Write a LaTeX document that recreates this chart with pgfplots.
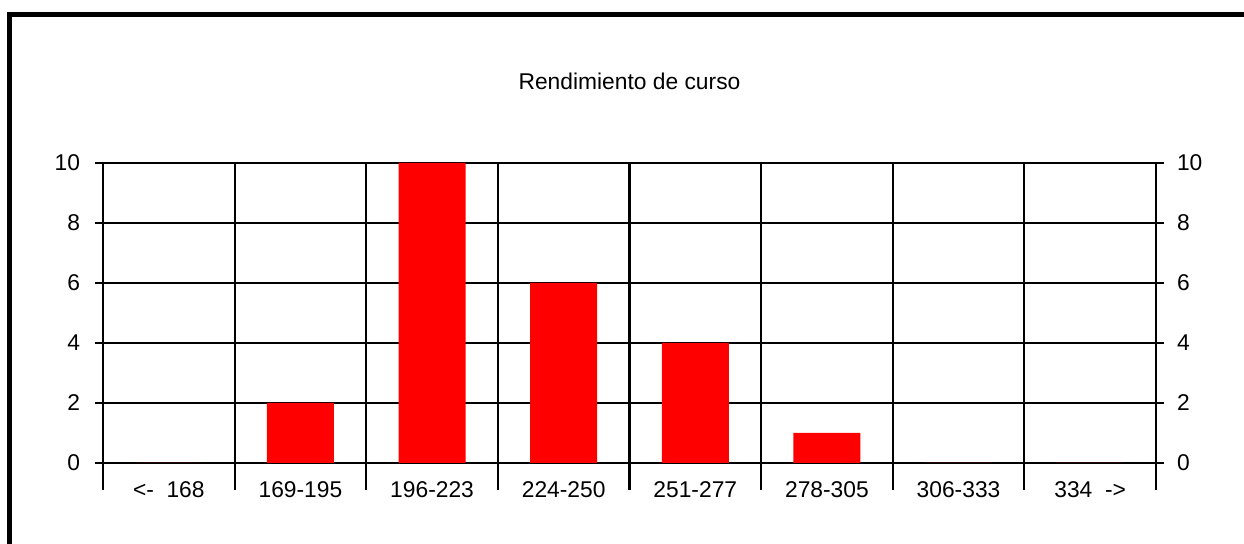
\documentclass[border=0pt]{standalone}
\usepackage{pgfplots}
\pgfplotsset{compat=1.18}
\usepackage{fontspec}
\setmainfont{Liberation Sans}
\begin{document}
\begin{tikzpicture}
\useasboundingbox (0,0) rectangle (622pt,272pt);
\draw[line width=2.5pt] (4.75pt,-10pt) -- (4.75pt,264.75pt) -- (640pt,264.75pt);
\pgfplotsset{base/.style={
  at={(51.5pt,40.5pt)}, anchor=south west,
  width=526.5pt, height=150pt, scale only axis,
  xmin=0, xmax=8, ymin=0, ymax=10,
  axis line style={draw=none},
  font=\fontsize{11.4pt}{13pt}\selectfont,
  /pgf/number format/assume math mode=true,
  tick align=outside,
  major tick style={black, line width=1.05pt},
}}
\begin{axis}[base,
  ytick={0,2,...,10}, yticklabels={}, y tick style={draw=none},
  xtick={0,...,8}, xticklabels={}, xtick pos=bottom,
  xmajorgrids, ymajorgrids,
  grid style={black, line width=1.05pt},
  major tick length=13.5pt,
  extra x ticks={0.5,1.5,...,7.5},
  extra x tick labels={{<-\ \ 168},{169-195},{196-223},{224-250},{251-277},{278-305},{306-333},{334\ \ ->}},
  extra x tick style={grid=none, major tick length=0pt, tick label style={yshift=-6pt}},
  title={Rendimiento de curso},
  title style={at={(0.5,1)}, anchor=center, yshift=35pt},
  ybar, bar width=33.5pt, bar shift=0pt,
]
\addplot[fill=red, draw=none] coordinates {(0.5,0) (1.5,2) (2.5,10) (3.5,6) (4.5,4) (5.5,1) (6.5,0) (7.5,0)};
\end{axis}
\begin{axis}[base,
  ytick={0,2,...,10}, ytick pos=left, yticklabel pos=left,
  xtick=\empty,
  major tick length=4pt,
  yticklabel style={xshift=-4pt},
]
\end{axis}
\begin{axis}[base,
  ytick={0,2,...,10}, ytick pos=right, yticklabel pos=right,
  xtick=\empty,
  major tick length=4pt,
  yticklabel style={xshift=3pt},
]
\end{axis}
\end{tikzpicture}
\end{document}
